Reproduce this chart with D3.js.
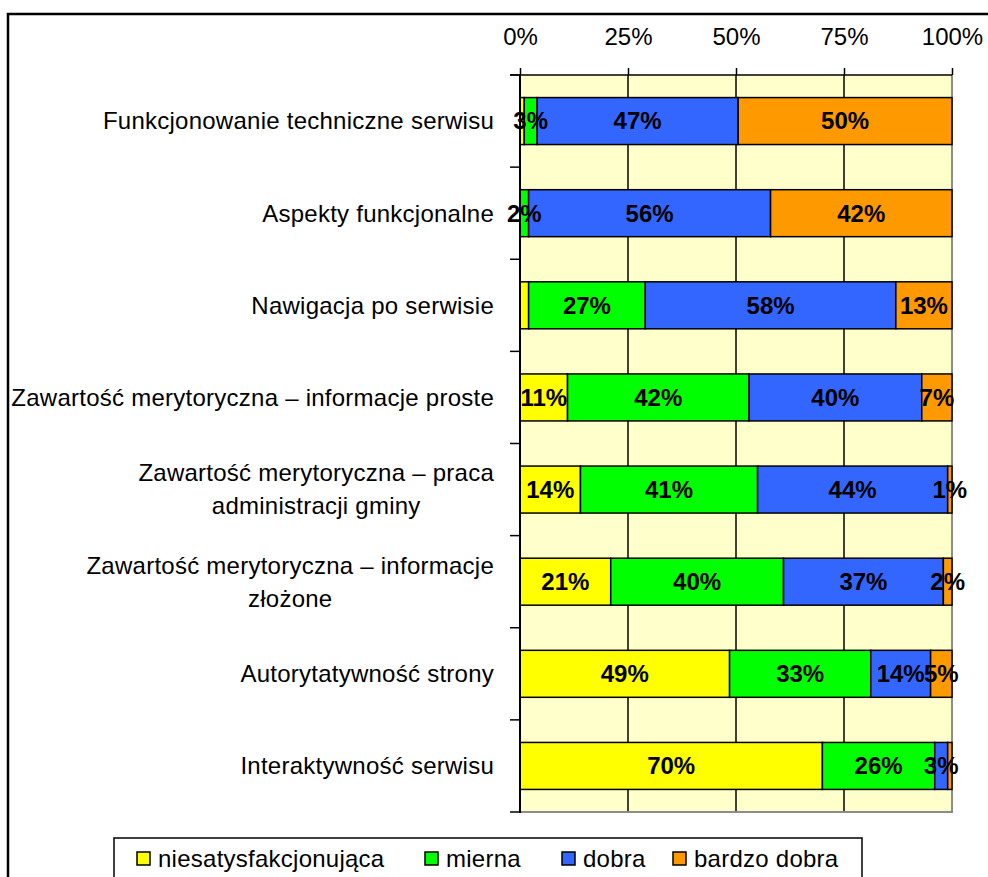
<!DOCTYPE html>
<html>
<head>
<meta charset="utf-8">
<title>Ocena serwisu</title>
<style>
	body {
		margin: 0;
		background: #fff;
		font-family: Arial, "Liberation Sans", sans-serif;
	}
	svg { display: block; }
	.cat, .tick-label, .legend-text { font-size: 24px; fill: #000; }
	.cat, .legend-text { letter-spacing: 0.25px; }
	.val { font-size: 24px; font-weight: bold; fill: #000; }
</style>
</head>
<body>
<svg id="chart" width="988" height="877"></svg>
<script src="https://cdnjs.cloudflare.com/ajax/libs/d3/7.8.5/d3.min.js"></script>
<script>
	// categories (top to bottom), "\n" marks a line break in the label
	var categories = [
		"Funkcjonowanie techniczne serwisu",
		"Aspekty funkcjonalne",
		"Nawigacja po serwisie",
		"Zawartość merytoryczna – informacje proste",
		"Zawartość merytoryczna – praca\nadministracji gminy",
		"Zawartość merytoryczna – informacje\nzłożone",
		"Autorytatywność strony",
		"Interaktywność serwisu"
	];
	var seriesNames = ["niesatysfakcjonująca", "mierna", "dobra", "bardzo dobra"];

	var niesatysfakcjonujaca = [1, 0, 2, 11, 14, 21, 49, 70];
	var mierna               = [3, 2, 27, 42, 41, 40, 33, 26];
	var dobra                = [47, 56, 58, 40, 44, 37, 14, 3];
	var bardzoDobra          = [50, 42, 13, 7, 1, 2, 5, 1];

	var tickValues = [0, 0.25, 0.5, 0.75, 1];
	// labels that are not shown in the original: [row, series]
	var hiddenLabels = [[0, 0], [1, 0], [2, 0], [7, 3]];
	var colors = ["#ffff00", "#00ff00", "#3366ff", "#ff9900"];

	var svg = d3.select("#chart");
	var plotLeft = 520, plotRight = 952, plotTop = 75, plotBottom = 812;

	// outer chart border
	svg.append("rect")
		.attr("x", 8).attr("y", 14)
		.attr("width", 1100).attr("height", 1000)
		.attr("fill", "#fff")
		.attr("stroke", "#000")
		.attr("stroke-width", 2.5);

	var rows = categories.map(function(c, i) {
		return {
			cat: c,
			s0: niesatysfakcjonujaca[i],
			s1: mierna[i],
			s2: dobra[i],
			s3: bardzoDobra[i]
		};
	});

	var stack = d3.stack()
		.keys(["s0", "s1", "s2", "s3"])
		.offset(d3.stackOffsetExpand);
	var layers = stack(rows);

	var x = d3.scaleLinear().domain([0, 1]).range([plotLeft, plotRight]);
	var y = d3.scaleBand()
		.domain(d3.range(categories.length))
		.range([plotTop, plotBottom])
		.paddingInner(0.49)
		.paddingOuter(0.245);
	var step = y.step();

	// plot background
	svg.append("rect")
		.attr("x", plotLeft).attr("y", plotTop)
		.attr("width", plotRight - plotLeft).attr("height", plotBottom - plotTop)
		.attr("fill", "#ffffcc");

	// vertical gridlines
	svg.append("g")
		.selectAll("line")
		.data(tickValues.slice(0, -1))
		.enter()
		.append("line")
		.attr("x1", function(d) { return x(d); })
		.attr("x2", function(d) { return x(d); })
		.attr("y1", plotTop).attr("y2", plotBottom)
		.attr("stroke", "#000")
		.attr("stroke-width", 1.5);

	// right & bottom plot border (grey)
	svg.append("path")
		.attr("d", "M" + plotRight + "," + plotTop + "V" + plotBottom + "H" + plotLeft)
		.attr("fill", "none")
		.attr("stroke", "#8c8c8c")
		.attr("stroke-width", 2);

	// bars
	var segs = [];
	layers.forEach(function(layer, si) {
		layer.forEach(function(d, ri) {
			segs.push({ si: si, ri: ri, x0: d[0], x1: d[1], v: rows[ri]["s" + si] });
		});
	});

	svg.append("g")
		.selectAll("rect")
		.data(segs.filter(function(d) { return d.v > 0; }))
		.enter()
		.append("rect")
		.attr("x", function(d) { return x(d.x0); })
		.attr("y", function(d) { return y(d.ri); })
		.attr("width", function(d) { return x(d.x1) - x(d.x0); })
		.attr("height", y.bandwidth())
		.attr("fill", function(d) { return colors[d.si]; })
		.attr("stroke", "#000")
		.attr("stroke-width", 1.5);

	// value labels
	var isHidden = function(d) {
		return hiddenLabels.some(function(h) { return h[0] === d.ri && h[1] === d.si; });
	};
	svg.append("g")
		.selectAll("text")
		.data(segs.filter(function(d) { return d.v > 0 && !isHidden(d); }))
		.enter()
		.append("text")
		.attr("class", "val")
		.attr("x", function(d) { return (x(d.x0) + x(d.x1)) / 2; })
		.attr("y", function(d) { return y(d.ri) + y.bandwidth() / 2; })
		.attr("dy", "0.35em")
		.attr("text-anchor", "middle")
		.text(function(d) { return d.v + "%"; });

	// top axis
	var xAxis = d3.axisTop(x)
		.tickValues(tickValues)
		.tickFormat(d3.format(".0%"))
		.tickSize(7)
		.tickPadding(23);
	var gx = svg.append("g")
		.attr("transform", "translate(0," + plotTop + ")")
		.call(xAxis);
	gx.select(".domain").remove();
	gx.selectAll(".tick line").attr("stroke", "#000").attr("stroke-width", 1.5);
	gx.selectAll(".tick text")
		.attr("class", "tick-label")
		.attr("font-family", null)
		.attr("font-size", null);
	gx.attr("font-family", null).attr("font-size", null);

	svg.append("line")
		.attr("x1", plotLeft - 10).attr("x2", plotRight)
		.attr("y1", plotTop).attr("y2", plotTop)
		.attr("stroke", "#000").attr("stroke-width", 1.5);

	// left axis line + ticks at band boundaries
	svg.append("line")
		.attr("x1", plotLeft).attr("x2", plotLeft)
		.attr("y1", plotTop).attr("y2", plotBottom + 1)
		.attr("stroke", "#000").attr("stroke-width", 2);
	svg.append("g")
		.selectAll("line")
		.data(d3.range(categories.length + 1))
		.enter()
		.append("line")
		.attr("x1", plotLeft - 10).attr("x2", plotLeft)
		.attr("y1", function(i) { return plotTop + i * step; })
		.attr("y2", function(i) { return plotTop + i * step; })
		.attr("stroke", "#000").attr("stroke-width", 1.5);

	// category labels
	var labelRight = 494, lineH = 33;
	categories.forEach(function(c, i) {
		var lines = c.split("\n");
		var cy = y(i) + y.bandwidth() / 2;
		var t = svg.append("text").attr("class", "cat");
		var spans = lines.map(function(l, li) {
			return t.append("tspan")
				.attr("y", cy + (li - (lines.length - 1) / 2) * lineH)
				.attr("dy", "0.35em")
				.text(l);
		});
		var maxW = d3.max(spans, function(s) { return s.node().getComputedTextLength(); });
		spans.forEach(function(s) {
			s.attr("x", labelRight - maxW / 2).attr("text-anchor", "middle");
		});
	});

	// legend
	var legendX = [137, 425, 562, 673];
	var lg = svg.append("g");
	lg.append("rect")
		.attr("x", 114).attr("y", 838)
		.attr("width", 748).attr("height", 80)
		.attr("fill", "#fff")
		.attr("stroke", "#000")
		.attr("stroke-width", 1.5);
	var ly = 859;
	seriesNames.forEach(function(name, i) {
		lg.append("rect")
			.attr("x", legendX[i]).attr("y", ly - 7)
			.attr("width", 13).attr("height", 13)
			.attr("fill", colors[i])
			.attr("stroke", "#000")
			.attr("stroke-width", 1.5);
		lg.append("text")
			.attr("class", "legend-text")
			.attr("x", legendX[i] + 21)
			.attr("y", ly)
			.attr("dy", "0.35em")
			.text(name);
	});
</script>
</body>
</html>
